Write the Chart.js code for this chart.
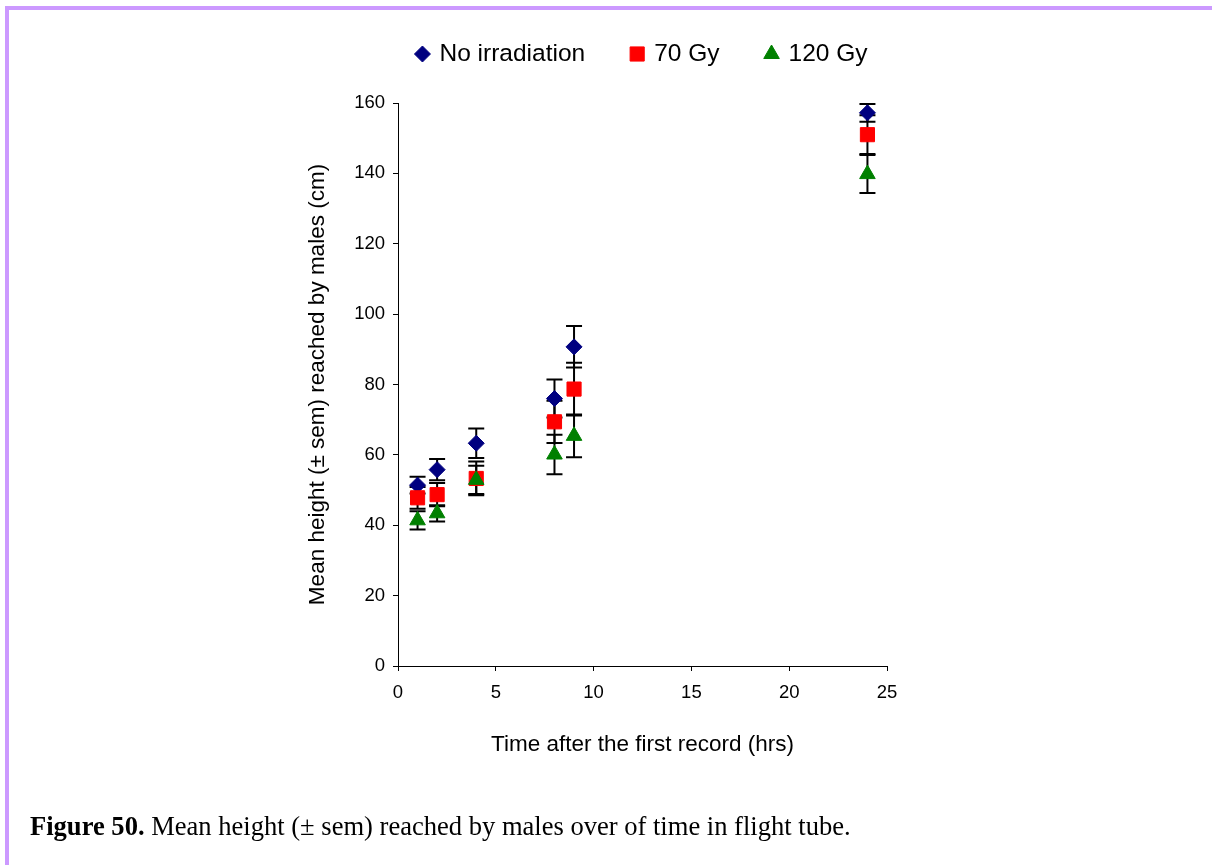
<!DOCTYPE html>
<html>
<head>
<meta charset="utf-8">
<script src="https://cdn.jsdelivr.net/npm/chart.js@4.4.1/dist/chart.umd.min.js"></script>
<style>
  html, body { margin: 0; padding: 0; background: #fff; }
  #wrap { position: relative; width: 1212px; height: 865px; overflow: hidden; background: #fff; }
  #chart { position: absolute; left: 0; top: 0; }
  .frame { position: absolute; background: #cc99ff; }
  #frameTop { left: 5px; top: 6px; width: 1207px; height: 4px; }
  #frameLeft { left: 5px; top: 6px; width: 4px; height: 859px; }
  #caption {
    position: absolute; left: 30px; top: 813px;
    font-family: "Liberation Serif", "Times New Roman", serif;
    font-size: 26.55px; line-height: 1; white-space: nowrap; color: #000;
  }
</style>
</head>
<body>
<div id="wrap">
  <canvas id="chart" width="1212" height="865"></canvas>
  <div class="frame" id="frameTop"></div>
  <div class="frame" id="frameLeft"></div>
  <div id="caption"><b>Figure 50.</b> Mean height (± sem) reached by males over of time in flight tube.</div>
</div>
<script>
// Hours after the first record
const hours = [1, 2, 4, 8, 9, 24];

// Mean height (cm) and standard error for each treatment
const noIrradiation    = [51.4, 55.8, 63.3, 76.0, 90.7, 157.2];
const noIrradiationSem = [2.4, 3.0, 4.2, 5.4, 5.9, 2.5];
const gy70             = [47.8, 48.7, 53.3, 69.4, 78.7, 151.0];
const gy70Sem          = [3.1, 3.3, 4.8, 6.0, 7.5, 5.5];
const gy120            = [41.4, 43.4, 52.9, 60.1, 65.4, 139.8];
const gy120Sem         = [2.6, 2.3, 4.0, 5.6, 6.1, 5.4];

// Axis ticks
const xTickValues = [0, 5, 10, 15, 20, 25];
const yTickValues = [0, 20, 40, 60, 80, 100, 120, 140, 160];

const FONT = '"Liberation Sans", Arial, Helvetica, sans-serif';

function points(ys) {
  return hours.map((h, i) => ({ x: h, y: ys[i] }));
}

// Vertical ± sem bars with caps, drawn underneath the markers
const errorBars = {
  id: 'errorBars',
  beforeDatasetsDraw(chart) {
    const { ctx, scales: { x, y } } = chart;
    const cap = 8;
    ctx.save();
    ctx.strokeStyle = '#000';
    ctx.lineWidth = 2;
    chart.data.datasets.forEach(ds => {
      ds.data.forEach((pt, i) => {
        const px = x.getPixelForValue(pt.x);
        const top = y.getPixelForValue(pt.y + ds.errors[i]);
        const bot = y.getPixelForValue(pt.y - ds.errors[i]);
        ctx.beginPath();
        ctx.moveTo(px, top); ctx.lineTo(px, bot);
        ctx.moveTo(px - cap, top); ctx.lineTo(px + cap, top);
        ctx.moveTo(px - cap, bot); ctx.lineTo(px + cap, bot);
        ctx.stroke();
      });
    });
    ctx.restore();
  }
};

// Single-row legend above the plot area
const legendRow = {
  id: 'legendRow',
  afterDraw(chart) {
    const ctx = chart.ctx;
    const cy = 54, centerX = 645, textGap = 17, itemGap = 52;
    ctx.save();
    ctx.font = '24.5px ' + FONT;
    ctx.textBaseline = 'middle';
    const items = chart.data.datasets.map(ds => ({ ds, w: ctx.measureText(ds.label).width }));
    const span = items.reduce((s, it) => s + textGap + it.w, 0) + itemGap * (items.length - 1);
    let cx = centerX - span / 2;
    items.forEach(it => {
      const ds = it.ds;
      ctx.fillStyle = ds.backgroundColor;
      ctx.strokeStyle = ds.borderColor;
      ctx.lineWidth = ds.borderWidth;
      Chart.helpers.drawPoint(ctx, {
        pointStyle: ds.pointStyle, radius: ds.pointRadius,
        borderWidth: ds.borderWidth, rotation: 0
      }, cx, cy);
      ctx.fillStyle = '#000';
      ctx.textAlign = 'left';
      ctx.fillText(ds.label, cx + textGap, cy);
      cx += textGap + it.w + itemGap;
    });
    ctx.restore();
  }
};

new Chart(document.getElementById('chart'), {
  type: 'scatter',
  data: {
    datasets: [
      {
        label: 'No irradiation', data: points(noIrradiation), errors: noIrradiationSem,
        pointStyle: 'rectRot', pointRadius: 8,
        backgroundColor: '#000080', borderColor: '#000080', borderWidth: 1, order: 3
      },
      {
        label: '70 Gy', data: points(gy70), errors: gy70Sem,
        pointStyle: 'rect', pointRadius: 10,
        backgroundColor: '#ff0000', borderColor: '#ff0000', borderWidth: 1, order: 2
      },
      {
        label: '120 Gy', data: points(gy120), errors: gy120Sem,
        pointStyle: 'triangle', pointRadius: 9,
        backgroundColor: '#008000', borderColor: '#008000', borderWidth: 1, order: 1
      }
    ]
  },
  options: {
    responsive: false,
    animation: false,
    devicePixelRatio: 1,
    layout: { padding: { left: 298, top: 103, right: 325, bottom: 107 } },
    plugins: { legend: { display: false }, tooltip: { enabled: false } },
    scales: {
      x: {
        type: 'linear', min: 0, max: 25,
        afterBuildTicks: s => { s.ticks = xTickValues.map(v => ({ value: v })); },
        afterFit: s => { s.height = 92; },
        grid: { drawOnChartArea: false, tickLength: 5, color: '#000', tickColor: '#000', lineWidth: 1 },
        border: { color: '#000', width: 1 },
        ticks: { color: '#000', font: { family: FONT, size: 18.5 }, padding: 11, maxRotation: 0 },
        title: {
          display: true, text: 'Time after the first record (hrs)', color: '#000',
          font: { family: FONT, size: 22.5 }, padding: { top: 0, bottom: 0 }
        }
      },
      y: {
        type: 'linear', min: 0, max: 160,
        afterBuildTicks: s => { s.ticks = yTickValues.map(v => ({ value: v })); },
        afterFit: s => { s.width = 100; },
        grid: { drawOnChartArea: false, tickLength: 5, color: '#000', tickColor: '#000', lineWidth: 1 },
        border: { color: '#000', width: 1 },
        ticks: { color: '#000', font: { family: FONT, size: 18.5 }, padding: 8 },
        title: {
          display: true, text: 'Mean height (± sem) reached by males (cm)', color: '#000',
          font: { family: FONT, size: 22.5 }, padding: { top: 6, bottom: 0 }
        }
      }
    }
  },
  plugins: [errorBars, legendRow]
});
</script>
</body>
</html>
